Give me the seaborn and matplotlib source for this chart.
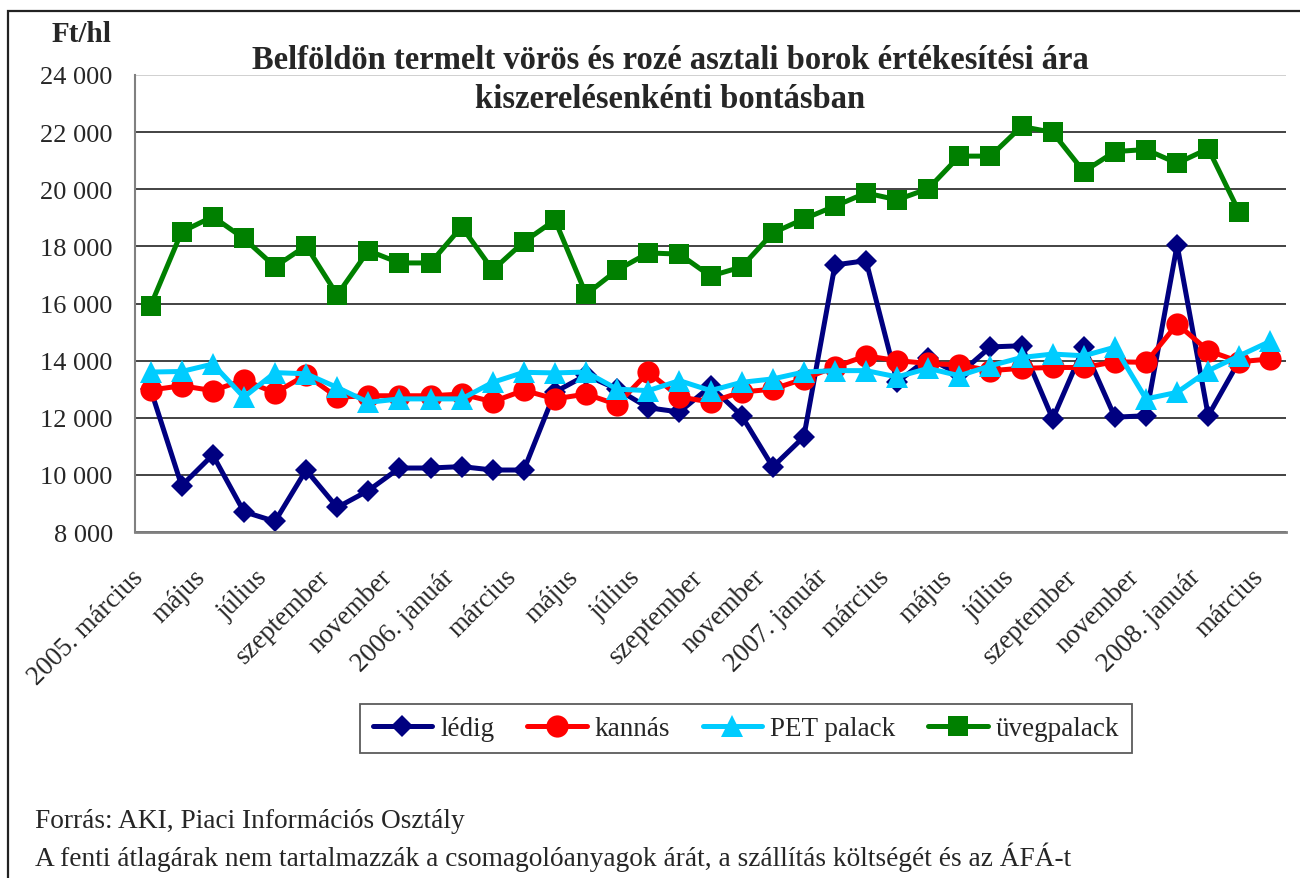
import numpy as np
import pandas as pd
import matplotlib
matplotlib.use("Agg")
import matplotlib.pyplot as plt
import matplotlib.transforms as mtransforms
from matplotlib.patches import Rectangle
import seaborn as sns

# ---- data ----
categories = [
    "2005. március", "április", "május", "június", "július", "augusztus",
    "szeptember", "október", "november", "december",
    "2006. január", "február", "március", "április", "május", "június",
    "július", "augusztus", "szeptember", "október", "november", "december",
    "2007. január", "február", "március", "április", "május", "június",
    "július", "augusztus", "szeptember", "október", "november", "december",
    "2008. január", "február", "március",
]
ledig = [13000, 9620, 10700, 8710, 8370, 10170, 8860, 9450, 10240, 10240,
         10290, 10170, 10170, 12900, 13490, 13000, 12350, 12200, 13100, 12070,
         10280, 11330, 17350, 17500, 13250, 14080, 13530, 14480, 14520, 11960,
         14470, 12020, 12070, 18050, 12070, 14000, np.nan]
kannas = [12970, 13120, 12950, 13320, 12870, 13500, 12720, 12770, 12770, 12770,
          12830, 12560, 12960, 12660, 12830, 12460, 13600, 12730, 12550, 12900,
          13000, 13360, 13780, 14170, 14000, 13900, 13850, 13650, 13730, 13760,
          13760, 13960, 13940, 15280, 14350, 13960, 14060]
pet = [13600, 13620, 13880, 12720, 13580, 13540, 13060, 12540, 12660, 12660,
       12660, 13240, 13590, 13570, 13600, 13000, 12950, 13300, 12950, 13240,
       13360, 13600, 13650, 13650, 13430, 13730, 13470, 13820, 14110, 14230,
       14170, 14470, 12660, 12890, 13650, 14170, 14680]
uveg = [15920, 18510, 19040, 18280, 17290, 18020, 16300, 17850, 17420, 17420,
        18690, 17170, 18160, 18920, 16320, 17170, 17770, 17730, 16960, 17280,
        18470, 18960, 19410, 19870, 19630, 20020, 21160, 21160, 22200, 21990,
        20620, 21320, 21390, 20910, 21420, 19190, np.nan]
series_names = ["lédig", "kannás", "PET palack", "üvegpalack"]
y_ticks = [8000, 10000, 12000, 14000, 16000, 18000, 20000, 22000, 24000]

title = "Belföldön termelt vörös és rozé asztali borok értékesítési ára\nkiszerelésenkénti bontásban"
unit = "Ft/hl"
note1 = "Forrás: AKI, Piaci Információs Osztály"
note2 = "A fenti átlagárak nem tartalmazzák a csomagolóanyagok árát, a szállítás költségét és az ÁFÁ-t"

# ---- style ----
sns.set_style("white")
plt.rcParams["font.family"] = ["Liberation Serif", "DejaVu Serif"]

fig = plt.figure(figsize=(13, 8.79), dpi=100)
ax = fig.add_axes([135 / 1300, 1 - 533 / 879, (1286 - 135) / 1300, (533 - 76) / 879])

x = np.arange(len(categories))
styles = [
    (ledig, "#000080", "D", 11.5),
    (kannas, "#FF0000", "o", 16),
    (pet, "#00CCFF", "^", 16),
    (uveg, "#008000", "s", 14.5),
]
for (vals, col, mk, ms), name in zip(styles, series_names):
    df = pd.DataFrame({"x": x, "y": vals}).dropna()
    sns.lineplot(data=df, x="x", y="y", color=col, marker=mk, markersize=ms,
                 markeredgewidth=0, linewidth=3.6, label=name, ax=ax,
                 sort=False, estimator=None)

ax.set_xlim(-0.5, len(categories) - 0.5)
ax.set_ylim(y_ticks[0], y_ticks[-1])
ax.set_yticks(y_ticks)
ax.set_yticklabels([f"{v:,.0f}".replace(",", " ") for v in y_ticks], fontsize=19)

# category labels (every second month), rotated like the original
ax.set_xticks(x[::2])
ax.set_xticklabels([])
label_tf = ax.get_xaxis_transform() + mtransforms.ScaledTranslation(
    -20 / 100, -32 / 100, fig.dpi_scale_trans)
for xi, lab in zip(x[::2], categories[::2]):
    ax.text(xi, 0, lab, transform=label_tf, rotation=45, ha="right", va="top",
            rotation_mode="anchor", fontsize=19.3)

ax.set_xticks(np.arange(-0.5, len(categories), 1), minor=True)
ax.tick_params(axis="x", which="major", length=0)
ax.tick_params(axis="x", which="minor", length=6, width=1.2, color="#555555", direction="out")
ax.tick_params(axis="y", length=6, width=1.2, color="#555555", direction="out", pad=10)
ax.set_xlabel("")
ax.set_ylabel("")

ax.grid(axis="y", color="#222222", linewidth=1.2)
ax.grid(axis="x", visible=False)
ax.set_axisbelow(True)
gl = ax.yaxis.get_gridlines()
gl[-1].set_color("#c8c8c8")
for s in ["top", "right"]:
    ax.spines[s].set_visible(False)
ax.spines["left"].set_color("#808080")
ax.spines["left"].set_linewidth(1.5)
ax.spines["bottom"].set_color("#808080")
ax.spines["bottom"].set_linewidth(2)

leg = ax.legend(loc="center", bbox_to_anchor=(746 / 1300, 1 - 729.5 / 879),
                bbox_transform=fig.transFigure, ncol=4, fontsize=19.5,
                frameon=True, fancybox=False, edgecolor="#333333",
                handlelength=2.2, columnspacing=1.2, handletextpad=0.3,
                borderpad=0.45)
leg.get_frame().set_linewidth(1.3)

fig.text(670 / 1300, 1 - 80 / 879, title, ha="center", va="center",
         fontsize=23.5, fontweight="bold", linespacing=1.35)
fig.text(82 / 1300, 1 - 35 / 879, unit, ha="center", va="center",
         fontsize=21, fontweight="bold")
fig.text(35 / 1300, 1 - 822 / 879, note1, ha="left", va="center", fontsize=19.7)
fig.text(35 / 1300, 1 - 857 / 879, note2, ha="left", va="center", fontsize=19.7)

fig.add_artist(Rectangle((8 / 1300, -0.05), 1.05, 1 - 12 / 879 + 0.05,
                         transform=fig.transFigure, fill=False,
                         linewidth=1.6, edgecolor="#222222"))

fig.savefig("out.png", dpi=100)
